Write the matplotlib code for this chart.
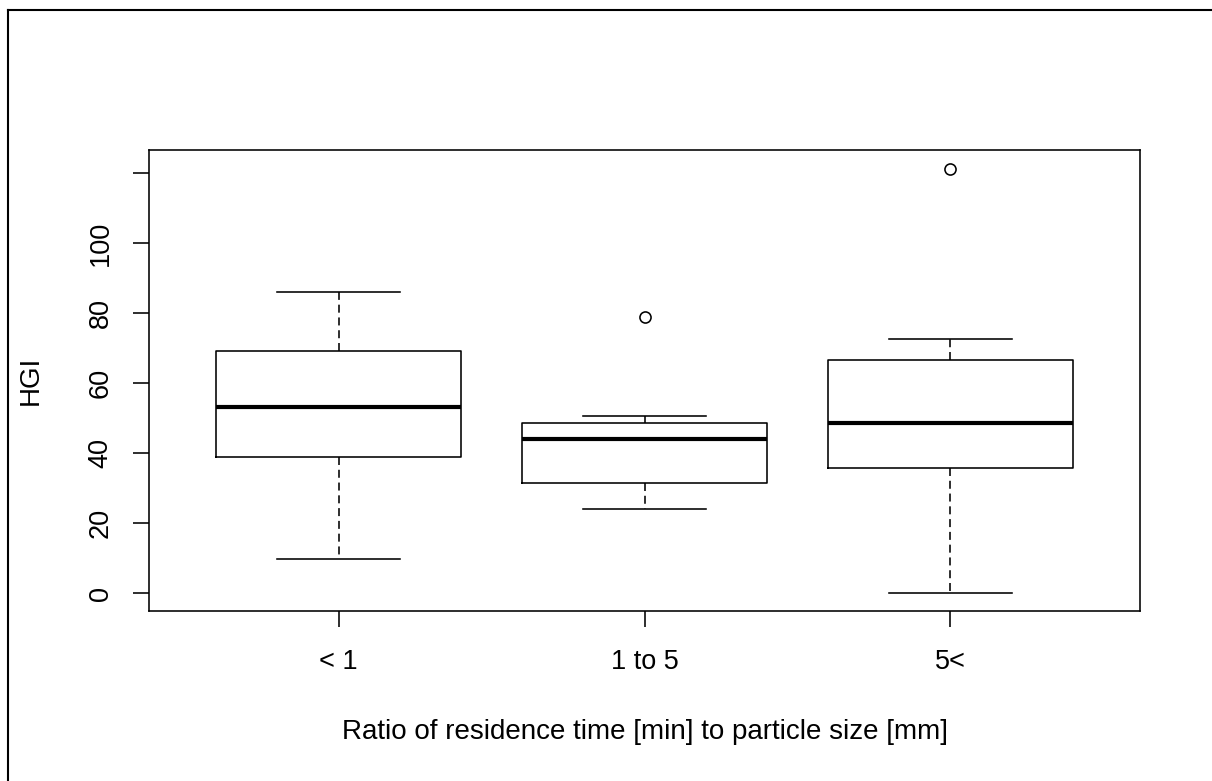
import matplotlib
matplotlib.use("Agg")
import matplotlib.pyplot as plt
from matplotlib.lines import Line2D

plt.rcParams["font.family"] = ["Liberation Sans", "DejaVu Sans"]

# values (R style)
groups = ["< 1", "1 to 5", "5<"]
whislo = [9.8, 24.1, 0.0]
q1 = [39.0, 31.4, 35.9]
med = [53.3, 44.1, 48.7]
q3 = [69.2, 48.6, 66.6]
whishi = [86.0, 50.7, 72.7]
fliers = [[], [78.9], [121.2]]
yticks = [0, 20, 40, 60, 80, 100, 120]
ytick_labels = ["0", "20", "40", "60", "80", "100", ""]


def make_stats():
    stats = []
    for i in range(len(groups)):
        stats.append({"label": groups[i], "whislo": whislo[i], "q1": q1[i],
                      "med": med[i], "q3": q3[i], "whishi": whishi[i],
                      "fliers": fliers[i]})
    return stats


fig = plt.figure(figsize=(12.12, 7.81), dpi=100)
ax = fig.add_axes([149 / 1212, 1 - 611 / 781, 991 / 1212, 461 / 781])

lw = 1.15
ax.bxp(make_stats(), positions=[1, 2, 3], widths=0.8, showfliers=True,
       boxprops=dict(color="black", linewidth=lw),
       medianprops=dict(color="black", linewidth=3.0, solid_capstyle="butt"),
       whiskerprops=dict(color="black", linewidth=lw, linestyle=(0, (5, 3))),
       capprops=dict(color="black", linewidth=lw),
       flierprops=dict(marker="o", markerfacecolor="none", markeredgecolor="black",
                       markersize=8, markeredgewidth=lw),
       capwidths=0.4)

ax.set_xlim(0.38, 3.62)
ax.set_ylim(-5.06, 126.7)
ax.set_yticks(yticks)
ax.set_yticklabels(ytick_labels, rotation=90, va="center")
ax.set_xticks([1, 2, 3])
ax.set_xticklabels(groups)
ax.tick_params(axis="both", direction="out", length=11.5, width=lw,
               labelsize=19.5, color="black")
ax.tick_params(axis="x", pad=16)
ax.tick_params(axis="y", pad=14)
for s in ax.spines.values():
    s.set_linewidth(lw)

ax.set_xlabel("Ratio of residence time [min] to particle size [mm]", fontsize=20, va="center")
ax.xaxis.set_label_coords(0.5, -0.2625)
ax.set_ylabel("HGI", fontsize=20, va="center")
ax.yaxis.set_label_coords((30.5 - 149) / 991, 0.5)

# partial border of the cropped screenshot (top and left only)
fig.add_artist(Line2D([8 / 1212, 1.0], [1 - 9.8 / 781, 1 - 9.8 / 781],
                      transform=fig.transFigure, color="black", linewidth=1.5))
fig.add_artist(Line2D([8 / 1212, 8 / 1212], [0.0, 1 - 9.8 / 781],
                      transform=fig.transFigure, color="black", linewidth=1.5))

fig.savefig("out.png", dpi=100)
